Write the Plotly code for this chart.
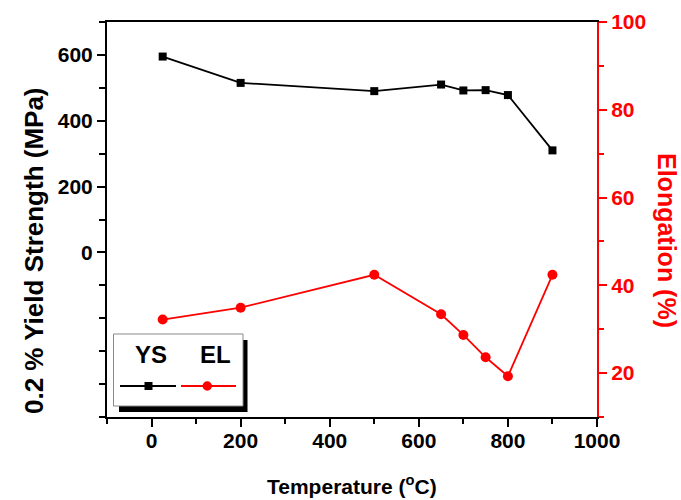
import plotly.graph_objects as go

# ---- data ----
temperature = [25, 200, 500, 650, 700, 750, 800, 900]
yield_strength = [595, 515, 490, 510, 492, 493, 478, 310]
elongation = [32.2, 34.9, 42.4, 33.4, 28.7, 23.6, 19.3, 42.4]

x_ticks = [0, 200, 400, 600, 800, 1000]
ys_ticks = [0, 200, 400, 600]
el_ticks = [20, 40, 60, 80, 100]

W, H = 681, 500
L, R, T, B = 107, 84, 22, 83
PW, PH = W - L - R, H - T - B
FONT = "Liberation Sans, Arial, sans-serif"
RED = "#FF0000"


def px(x):
    return (x - L) / PW


def py(y):
    return (H - B - y) / PH


fig = go.Figure()
fig.add_trace(go.Scatter(
    x=temperature, y=yield_strength, name="YS", mode="lines+markers",
    line=dict(color="black", width=1.8),
    marker=dict(symbol="square", size=8, color="black"),
))
fig.add_trace(go.Scatter(
    x=temperature, y=elongation, name="EL", mode="lines+markers", yaxis="y2",
    line=dict(color=RED, width=1.8),
    marker=dict(symbol="circle", size=10, color=RED),
))

tickfont = dict(family=FONT, size=21, color="black", weight="bold")

fig.update_layout(
    width=W, height=H,
    margin=dict(l=L, r=R, t=T, b=B, autoexpand=False),
    paper_bgcolor="white", plot_bgcolor="white",
    showlegend=False,
    xaxis=dict(
        range=[-100, 1000], tickvals=x_ticks, ticks="outside", ticklen=8,
        tickwidth=2, tickcolor="black", showline=True, linewidth=2,
        linecolor="black", mirror=True, showgrid=False, zeroline=False,
        tickfont=tickfont, ticklabelstandoff=-4,
        minor=dict(dtick=100, tick0=0, ticks="outside", ticklen=5,
                   tickwidth=2, tickcolor="black", showgrid=False),
    ),
    yaxis=dict(
        range=[-500, 700], tickvals=ys_ticks, ticks="outside", ticklen=8,
        tickwidth=2, tickcolor="black", showline=True, linewidth=2,
        linecolor="black", showgrid=False, zeroline=False, tickfont=tickfont,
        minor=dict(dtick=100, tick0=0, ticks="outside", ticklen=6,
                   tickwidth=2, tickcolor="black", showgrid=False),
    ),
    yaxis2=dict(
        range=[10, 100], overlaying="y", side="right", tickvals=el_ticks,
        ticks="outside", ticklen=8, tickwidth=2, tickcolor=RED,
        showline=True, linewidth=2, linecolor=RED, showgrid=False,
        zeroline=False,
        tickfont=dict(family=FONT, size=21, color=RED, weight="bold"),
        minor=dict(dtick=10, tick0=0, ticks="outside", ticklen=5,
                   tickwidth=2, tickcolor=RED, showgrid=False),
    ),
)

# axis titles
fig.add_annotation(
    x=px(352), y=py(485), xref="paper", yref="paper", showarrow=False,
    text="Temperature (<sup>o</sup>C)", xanchor="center", yanchor="middle",
    font=dict(family=FONT, size=21, color="black", weight="bold"),
)
fig.add_annotation(
    x=px(34), y=py(251), xref="paper", yref="paper", showarrow=False,
    text="0.2 % Yield Strength (MPa)", textangle=-90,
    xanchor="center", yanchor="middle",
    font=dict(family=FONT, size=26, color="black", weight="bold"),
)
fig.add_annotation(
    x=px(667), y=py(240), xref="paper", yref="paper", showarrow=False,
    text="Elongation (%)", textangle=90,
    xanchor="center", yanchor="middle",
    font=dict(family=FONT, size=25, color=RED, weight="bold"),
)

# legend box (custom, titles above symbols)
shapes = [
    dict(type="rect", xref="paper", yref="paper",
         x0=px(119), x1=px(247.5), y0=py(412), y1=py(340),
         fillcolor="black", line=dict(width=0), layer="above"),
    dict(type="rect", xref="paper", yref="paper",
         x0=px(113.5), x1=px(243), y0=py(406), y1=py(334),
         fillcolor="white", line=dict(color="#888888", width=1), layer="above"),
    dict(type="line", xref="paper", yref="paper",
         x0=px(120), x1=px(176), y0=py(386), y1=py(386),
         line=dict(color="black", width=1.8), layer="above"),
    dict(type="rect", xref="paper", yref="paper",
         x0=px(144.5), x1=px(152.5), y0=py(390), y1=py(382),
         fillcolor="black", line=dict(width=0), layer="above"),
    dict(type="line", xref="paper", yref="paper",
         x0=px(181), x1=px(236), y0=py(386), y1=py(386),
         line=dict(color=RED, width=1.8), layer="above"),
    dict(type="circle", xref="paper", yref="paper",
         x0=px(202.5), x1=px(212), y0=py(390.7), y1=py(381.3),
         fillcolor=RED, line=dict(width=0), layer="above"),
]
fig.update_layout(shapes=shapes)

for label, cx in (("YS", 150.5), ("EL", 215)):
    fig.add_annotation(
        x=px(cx), y=py(354), xref="paper", yref="paper", showarrow=False,
        text=label, xanchor="center", yanchor="middle",
        font=dict(family=FONT, size=24, color="black", weight="bold"),
    )

fig.write_html(
    "out.html",
    config={"displayModeBar": False},
    post_script="document.body.style.margin='0';document.body.style.padding='0';",
)
